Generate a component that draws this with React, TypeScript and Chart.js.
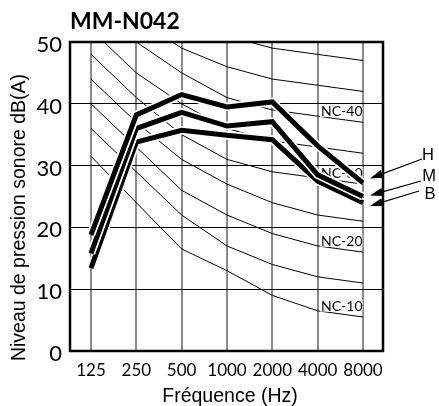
import React, { useEffect, useRef } from "react";
import { Chart, registerables } from "chart.js";

Chart.register(...registerables);

// Octave-band centre frequencies (Hz)
const frequencies = ["125", "250", "500", "1000", "2000", "4000", "8000"];

// Sound pressure level per fan speed, dB(A)
const levelH = [18.8, 38.2, 41.5, 39.5, 40.3, 33.2, 27.2];
const levelM = [15.8, 36.0, 38.6, 36.4, 37.1, 28.5, 25.0];
const levelB = [13.4, 33.8, 35.7, 34.9, 34.2, 27.5, 24.0];

// NC reference curves
const nc10 = [31.5, 24, 16.5, 13, 9, 6.5, 5.5];
const nc15 = [36, 29, 22, 17, 14, 12, 11];
const nc20 = [40, 33, 26, 22, 19, 17, 16];
const nc25 = [44, 37, 31, 27, 24, 22, 21];
const nc30 = [48, 41, 35, 31, 29, 28, 27];
const nc35 = [52, 45, 40, 36, 34, 33, 32];
const nc40 = [56, 50, 45, 41, 39, 38, 37];
const nc45 = [60, 54, 49, 46, 44, 43, 42];
const nc50 = [64, 58, 54, 51, 49, 48, 47];

const ncCurves = [nc10, nc15, nc20, nc25, nc30, nc35, nc40, nc45, nc50];
const ncLabelNames = ["NC-40", "NC-30", "NC-20", "NC-10"];
const ncLabelCurves = [nc40, nc30, nc20, nc10];

const speedNames = ["H", "M", "B"];
const speedLevels = [levelH, levelM, levelB];

const yTicks = [0, 10, 20, 30, 40, 50];

const TITLE = "MM-N042";
const X_TITLE = "Fréquence (Hz)";
const Y_TITLE = "Niveau de pression sonore dB(A)";

const GILL = "Lato, 'DejaVu Sans', sans-serif";
const ARIAL = "'Liberation Sans', Arial, sans-serif";

// Placement of the speed captions and arrow tails (canvas px)
const speedCaptionPos = [
  { x: 428, y: 160 },
  { x: 429, y: 181 },
  { x: 430, y: 199 },
];
const arrowTailPos = [
  { x: 422, y: 159 },
  { x: 421, y: 181 },
  { x: 419, y: 191 },
];
const arrowTipShift = [-4.5, -1, 3.3];

const toPoints = (values: number[]) => values.map((y, i) => ({ x: i, y }));

export default function App() {
  const ref = useRef<HTMLCanvasElement>(null);

  useEffect(() => {
    const canvas = ref.current;
    if (!canvas) return;

    const thickSets: any[] = [];
    speedLevels.forEach((lv, k) => {
      thickSets.push({
        label: speedNames[k],
        data: toPoints(lv),
        borderColor: "#000",
        borderWidth: 5,
      });
      thickSets.push({
        label: speedNames[k] + "-halo",
        data: toPoints(lv),
        borderColor: "#fff",
        borderWidth: 8.5,
      });
    });
    const firstNcIndex = thickSets.length;
    const ncSets = ncCurves.map((c, i) => ({
      label: "nc" + i,
      data: toPoints(c),
      borderColor: "#000",
      borderWidth: 1,
    }));

    const decorations = {
      id: "decorations",
      afterDatasetDraw(chart: any, args: any) {
        if (args.index !== firstNcIndex) return;
        const { ctx, scales } = chart;
        const xs = scales.x;
        const ys = scales.y;
        ctx.save();
        ctx.font = `14px ${GILL}`;
        ctx.textAlign = "right";
        ctx.textBaseline = "middle";
        ncLabelNames.forEach((name, i) => {
          const curve = ncLabelCurves[i];
          const x = xs.getPixelForValue(curve.length - 1) - 0.5;
          const y = ys.getPixelForValue(curve[curve.length - 1]) - 11.5;
          const w = ctx.measureText(name).width;
          ctx.fillStyle = "#fff";
          ctx.fillRect(x - w - 1, y - 6, w + 1, 12);
          ctx.fillStyle = "#000";
          ctx.fillText(name, x, y + 0.5);
        });
        ctx.restore();
      },
      afterDatasetsDraw(chart: any) {
        const { ctx, chartArea } = chart;
        ctx.save();
        ctx.strokeStyle = "#000";
        ctx.lineWidth = 2.5;
        ctx.strokeRect(
          chartArea.left,
          chartArea.top,
          chartArea.right - chartArea.left,
          chartArea.bottom - chartArea.top
        );
        ctx.restore();
      },
      afterDraw(chart: any) {
        const { ctx, chartArea, scales } = chart;
        const xs = scales.x;
        const ys = scales.y;
        ctx.save();
        ctx.fillStyle = "#000";

        // chart title
        ctx.font = `bold 23px ${GILL}`;
        ctx.textAlign = "left";
        ctx.textBaseline = "alphabetic";
        ctx.fillText(TITLE, chartArea.left, 28.5);

        // axis titles
        ctx.font = `19.5px ${ARIAL}`;
        ctx.textAlign = "center";
        ctx.fillText(X_TITLE, 230, 401.5);
        ctx.save();
        ctx.translate(24.5, 217.5);
        ctx.rotate(-Math.PI / 2);
        ctx.fillText(Y_TITLE, 0, 0);
        ctx.restore();

        // speed captions with arrows
        ctx.font = `16.5px ${ARIAL}`;
        ctx.textAlign = "center";
        speedLevels.forEach((lv, k) => {
          const cap = speedCaptionPos[k];
          ctx.fillText(speedNames[k], cap.x, cap.y);
          const tail = arrowTailPos[k];
          const tipX = xs.getPixelForValue(lv.length - 1) + 7;
          const tipY = ys.getPixelForValue(lv[lv.length - 1]) + arrowTipShift[k];
          const ang = Math.atan2(tail.y - tipY, tail.x - tipX);
          const len = 13;
          const half = 4.2;
          const bx = tipX + Math.cos(ang) * len;
          const by = tipY + Math.sin(ang) * len;
          ctx.strokeStyle = "#000";
          ctx.lineWidth = 1.2;
          ctx.beginPath();
          ctx.moveTo(tail.x, tail.y);
          ctx.lineTo(bx, by);
          ctx.stroke();
          ctx.beginPath();
          ctx.moveTo(tipX, tipY);
          ctx.lineTo(bx - Math.sin(ang) * half, by + Math.cos(ang) * half);
          ctx.lineTo(bx + Math.sin(ang) * half, by - Math.cos(ang) * half);
          ctx.closePath();
          ctx.fill();
        });
        ctx.restore();
      },
    };

    const chart = new Chart(canvas, {
      type: "line",
      data: { datasets: [...thickSets, ...ncSets] },
      options: {
        animation: false,
        responsive: false,
        devicePixelRatio: 1,
        events: [],
        layout: {
          autoPadding: false,
          padding: { left: 0, top: 42, right: 56, bottom: 0 },
        },
        elements: {
          point: { radius: 0 },
          line: {
            tension: 0,
            borderJoinStyle: "miter",
            borderCapStyle: "butt",
            fill: false,
          },
        },
        plugins: {
          legend: { display: false },
          tooltip: { enabled: false },
          title: { display: false },
        },
        scales: {
          x: {
            type: "linear",
            min: -0.463,
            max: 6.441,
            afterBuildTicks: (scale: any) => {
              scale.ticks = frequencies.map((_, i) => ({ value: i }));
            },
            afterFit: (scale: any) => {
              scale.height = 55;
            },
            grid: { color: "#8a8a8a", lineWidth: 2, drawTicks: false },
            border: { display: false },
            ticks: {
              color: "#000",
              font: { family: GILL, size: 17 },
              padding: 9,
              maxRotation: 0,
              autoSkip: false,
              callback: (_v: any, i: number) => frequencies[i],
            },
          },
          y: {
            type: "linear",
            min: 0,
            max: 50,
            afterBuildTicks: (scale: any) => {
              scale.ticks = yTicks.map((v) => ({ value: v }));
            },
            afterFit: (scale: any) => {
              scale.width = 70;
            },
            grid: { color: "#000", lineWidth: 1, drawTicks: false },
            border: { display: false },
            ticks: {
              color: "#000",
              font: { family: GILL, size: 22 },
              padding: 8,
              labelOffset: 3,
              callback: (v: any) => String(v),
            },
          },
        },
      },
      plugins: [decorations as any],
    });

    return () => chart.destroy();
  }, []);

  return (
    <div
      style={{
        position: "fixed",
        left: 0,
        top: 0,
        width: 439,
        height: 406,
        background: "#fff",
      }}
    >
      <canvas
        ref={ref}
        width={439}
        height={406}
        style={{ display: "block", width: 439, height: 406 }}
      />
    </div>
  );
}
